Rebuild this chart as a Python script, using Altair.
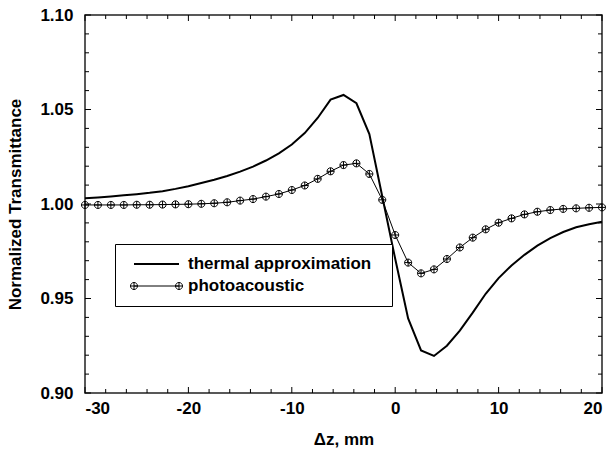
import altair as alt
import pandas as pd

# ---- data ----
z = [-30, -28.75, -27.5, -26.25, -25, -23.75, -22.5, -21.25, -20, -18.75,
     -17.5, -16.25, -15, -13.75, -12.5, -11.25, -10, -8.75, -7.5, -6.25,
     -5, -3.75, -2.5, -1.25, 0, 1.25, 2.5, 3.75, 5, 6.25,
     7.5, 8.75, 10, 11.25, 12.5, 13.75, 15, 16.25, 17.5, 18.75, 20]

thermal = [1.0030, 1.0035, 1.0040, 1.0046, 1.0052, 1.0059, 1.0068, 1.0080, 1.0094, 1.0111,
           1.0128, 1.0148, 1.0171, 1.0198, 1.0230, 1.0268, 1.0315, 1.0375, 1.0455, 1.0552,
           1.0577, 1.0533, 1.0370, 1.0040, 0.9710, 0.9395, 0.9225, 0.9196, 0.9250, 0.9330,
           0.9425, 0.9525, 0.9608, 0.9675, 0.9731, 0.9780, 0.9820, 0.9852, 0.9877, 0.9893, 0.9906]

photo = [0.9995, 0.9995, 0.9995, 0.9995, 0.9996, 0.9996, 0.9997, 0.9998, 0.9999, 1.0001,
         1.0004, 1.0009, 1.0018, 1.0026, 1.0039, 1.0053, 1.0074, 1.0098, 1.0133, 1.0173,
         1.0206, 1.0215, 1.0159, 1.0022, 0.9836, 0.9690, 0.9633, 0.9654, 0.9709, 0.9770,
         0.9822, 0.9866, 0.9901, 0.9924, 0.9945, 0.9959, 0.9968, 0.9974, 0.9977, 0.9980, 0.9982]

series_names = ["thermal approximation", "photoacoustic"]

x_major = [-30, -20, -10, 0, 10, 20]
x_minor = [-28, -26, -24, -22, -18, -16, -14, -12, -8, -6, -4, -2,
           2, 4, 6, 8, 12, 14, 16, 18]
y_major = [0.90, 0.95, 1.00, 1.05, 1.10]
y_minor = [0.91, 0.92, 0.93, 0.94, 0.96, 0.97, 0.98, 0.99,
           1.01, 1.02, 1.03, 1.04, 1.06, 1.07, 1.08, 1.09]

W, H = 517, 378
FONT = "Liberation Sans, Arial, sans-serif"

df = pd.DataFrame({
    "z": z + z,
    "T": thermal + photo,
    "series": [series_names[0]] * len(z) + [series_names[1]] * len(z),
})

xscale = alt.Scale(domain=[-30, 20], nice=False, zero=False)
yscale = alt.Scale(domain=[0.90, 1.10], nice=False, zero=False)

X = alt.X("z:Q", scale=xscale,
          axis=alt.Axis(values=x_major, title="Δz, mm", domain=False, ticks=False,
                        grid=False, labelPadding=7, titlePadding=15,
                        labelExpr="toString(datum.value)"))
Y = alt.Y("T:Q", scale=yscale,
          axis=alt.Axis(values=y_major, title="Normalized Transmittance", domain=False,
                        ticks=False, grid=False, labelPadding=12, titlePadding=15,
                        format=".2f"))

CIRCLE_PLUS = "M-1,0A1,1 0 1,1 1,0A1,1 0 1,1 -1,0ZM-1,0H1M0,-1V1"
r = 0.156
LEG_THERMAL = "M-1,0H1"
LEG_PHOTO = ("M-1,0H1"
             f"M{-1-r},0A{r},{r} 0 1,1 {-1+r},0A{r},{r} 0 1,1 {-1-r},0Z"
             f"M{-1-r},0H{-1+r}M-1,{-r}V{r}"
             f"M{1-r},0A{r},{r} 0 1,1 {1+r},0A{r},{r} 0 1,1 {1-r},0Z"
             f"M{1-r},0H{1+r}M1,{-r}V{r}")

base = alt.Chart(df)

thermal_line = base.transform_filter(
    alt.datum.series == series_names[0]
).mark_line(color="black", strokeWidth=2).encode(x=X, y=Y)

photo_line = base.transform_filter(
    alt.datum.series == series_names[1]
).mark_line(color="black", strokeWidth=1).encode(x=X, y=Y)

photo_pts = base.transform_filter(
    alt.datum.series == series_names[1]
).mark_point(shape=CIRCLE_PLUS, filled=False, size=50, color="black",
             strokeWidth=1, opacity=1).encode(x=X, y=Y)

legend_def = alt.Legend(
    title=".", titleOrient="right", titleOpacity=0, titleFontSize=8, titlePadding=8,
    orient="none", legendX=30, legendY=229,
    strokeColor="black", fillColor="white", padding=10,
    symbolOffset=8, labelOffset=8, clipHeight=20, symbolSize=2025,
    labelFont=FONT, labelFontSize=17, labelFontWeight="bold", labelColor="black",
    symbolStrokeColor="black", symbolOpacity=1, labelLimit=400,
)

legend_layer = base.mark_point(filled=False, opacity=0, color="black").encode(
    x=X, y=Y,
    shape=alt.Shape("series:N",
                    scale=alt.Scale(domain=series_names, range=[LEG_THERMAL, LEG_PHOTO]),
                    legend=legend_def),
    strokeWidth=alt.StrokeWidth("series:N",
                                scale=alt.Scale(domain=series_names, range=[2, 1]),
                                legend=legend_def),
)

def xticks(vals, length, bottom):
    d = pd.DataFrame({"z": vals})
    if bottom:
        yv, y2v = H, H - length
    else:
        yv, y2v = 0, length
    return alt.Chart(d).mark_rule(color="black", strokeWidth=1).encode(
        x=X, y=alt.value(yv), y2=alt.value(y2v))

def yticks(vals, length, left):
    d = pd.DataFrame({"T": vals})
    if left:
        xv, x2v = 0, length
    else:
        xv, x2v = W, W - length
    return alt.Chart(d).mark_rule(color="black", strokeWidth=1).encode(
        y=Y, x=alt.value(xv), x2=alt.value(x2v))

ticks = [
    xticks(x_minor, 4, True), xticks(x_major, 6, True),
    xticks(x_minor, 4, False), xticks(x_major, 6, False),
    yticks(y_minor, 4, True), yticks(y_major, 6, True),
    yticks(y_minor, 4, False), yticks(y_major, 6, False),
]

chart = alt.layer(
    thermal_line, photo_line, photo_pts, legend_layer, *ticks
).properties(
    width=W, height=H,
    autosize=alt.AutoSizeParams(type="none"),
    padding={"left": 85, "top": 15, "right": 9, "bottom": 63},
    background="white",
).configure_view(
    stroke="#222", strokeWidth=1.5
).configure_axis(
    labelFont=FONT, labelFontSize=17, labelFontWeight="bold", labelColor="black",
    titleFont=FONT, titleFontSize=17, titleFontWeight="bold", titleColor="black",
)

chart.save("out.html", embed_options={"renderer": "svg", "actions": False})
